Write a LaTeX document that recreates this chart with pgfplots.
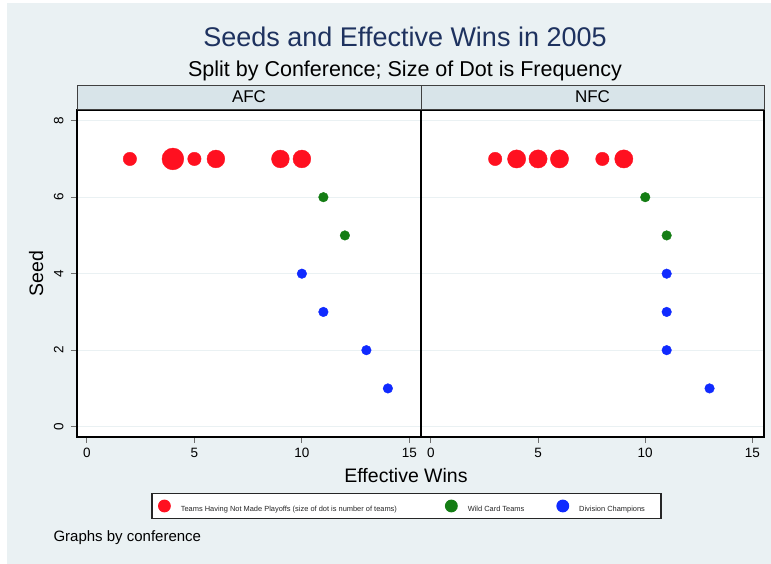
\documentclass[border=0pt]{standalone}
\usepackage{pgfplots}
\pgfplotsset{compat=1.18}
\usepackage{fontspec}
\setmainfont{Liberation Sans}

\definecolor{bgcol}{RGB}{234,241,243}
\definecolor{stripcol}{RGB}{216,228,233}
\definecolor{titlecol}{RGB}{30,50,95}
\definecolor{dotred}{RGB}{255,16,32}
\definecolor{dotgreen}{RGB}{20,125,20}
\definecolor{dotblue}{RGB}{16,42,255}
\definecolor{tickgray}{RGB}{110,110,110}

\pgfplotsset{
  panel/.style={
    scale only axis, height=327pt,
    xmin=-0.46, xmax=15.54, ymin=-0.27, ymax=8.28,
    xtick={0,5,10,15}, ytick={0,2,4,6,8},
    xtick pos=left, ytick pos=left,
    ymajorgrids, grid style={color=bgcol, line width=1pt},
    axis line style={black, line width=1.2pt},
    tick align=outside, major tick length=6pt,
    tick style={tickgray, line width=0.8pt},
    ticklabel style={font=\fontsize{13.5}{16}\selectfont},
    xticklabel shift=2pt,
    /pgf/number format/assume math mode=true,
    axis background/.style={fill=white},
  },
  small dot/.style={only marks, mark=*, mark size=4.8pt, forget plot},
}

\begin{document}
\begin{tikzpicture}
% graph region
\fill[white] (0pt,0pt) rectangle (771pt,564pt);
\fill[bgcol] (7pt,0pt) rectangle (771pt,561pt);

% titles
\node[anchor=base, text=titlecol, font=\fontsize{27}{32}\selectfont] at (405pt,517pt) {Seeds and Effective Wins in 2005};
\node[anchor=base, font=\fontsize{21.5}{26}\selectfont] at (405pt,487pt) {Split by Conference; Size of Dot is Frequency};

% AFC panel
\begin{axis}[panel, width=344pt, at={(77pt,127pt)}, anchor=south west,
  yticklabel style={rotate=90, anchor=south},
  yticklabel shift=4pt,
  legend columns=3,
  legend image code/.code={\fill[#1] (0pt,2.7pt) circle (5.8pt);},
  legend style={at={(0.9578,-0.211)}, anchor=center,
    draw=black!85, line width=1.2pt, fill=white,
    inner xsep=6pt, inner ysep=6pt,
    nodes={inner sep=0pt, text depth=0pt},
    cells={anchor=west},
    font=\fontsize{7.44}{9}\selectfont, text=black!85,
    /tikz/column 1/.style={column sep=10pt},
    /tikz/column 2/.style={column sep=48pt},
    /tikz/column 3/.style={column sep=10pt},
    /tikz/column 4/.style={column sep=32pt},
    /tikz/column 5/.style={column sep=10pt}},
]
\addlegendimage{dotred}
\addlegendentry{Teams Having Not Made Playoffs (size of dot is number of teams)}
\addlegendimage{dotgreen}
\addlegendentry{Wild Card Teams}
\addlegendimage{dotblue}
\addlegendentry{Division Champions\hspace*{10pt}}
% teams that missed the playoffs, by frequency
\addplot[only marks, mark=*, mark size=6.7pt, color=dotred, forget plot] coordinates {(2,7) (5,7)};
\addplot[only marks, mark=*, mark size=8.9pt, color=dotred, forget plot] coordinates {(6,7) (9,7) (10,7)};
\addplot[only marks, mark=*, mark size=10.9pt, color=dotred, forget plot] coordinates {(4,7)};
% wild cards and division winners
\addplot[small dot, color=dotgreen] coordinates {(11,6) (12,5)};
\addplot[small dot, color=dotblue] coordinates {(10,4) (11,3) (13,2) (14,1)};
\end{axis}

% NFC panel
\begin{axis}[panel, width=343pt, at={(421pt,127pt)}, anchor=south west,
  yticklabels={}, ytick style={draw=none}]
\addplot[only marks, mark=*, mark size=6.7pt, color=dotred, forget plot] coordinates {(3,7) (8,7)};
\addplot[only marks, mark=*, mark size=9.1pt, color=dotred, forget plot] coordinates {(4,7) (5,7) (6,7) (9,7)};
\addplot[small dot, color=dotgreen] coordinates {(10,6) (11,5)};
\addplot[small dot, color=dotblue] coordinates {(11,4) (11,3) (11,2) (13,1)};
\end{axis}

% panel headers
\draw[fill=stripcol, draw=black!75, line width=1pt] (77pt,454pt) rectangle (421pt,478pt);
\draw[fill=stripcol, draw=black!75, line width=1pt] (421pt,454pt) rectangle (764pt,478pt);
\node[anchor=base, font=\fontsize{17}{20}\selectfont] at (249pt,461pt) {AFC};
\node[anchor=base, font=\fontsize{17}{20}\selectfont] at (592.5pt,461pt) {NFC};

% axis titles and note
\node[anchor=base, font=\fontsize{19.5}{23}\selectfont] at (406pt,81pt) {Effective Wins};
\node[anchor=base, rotate=90, font=\fontsize{19.5}{23}\selectfont] at (43pt,290.5pt) {Seed};
\node[anchor=base west, font=\fontsize{15}{18}\selectfont] at (50pt,22pt) {Graphs by conference};
\end{tikzpicture}
\end{document}
